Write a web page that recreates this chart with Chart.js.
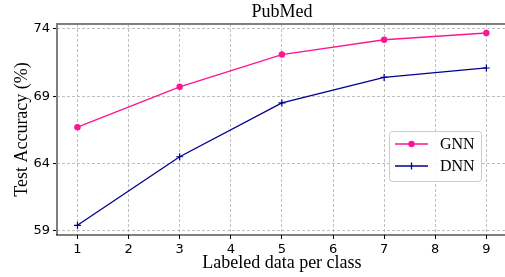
<!DOCTYPE html>
<html>
<head>
<meta charset="utf-8">
<script src="https://cdn.jsdelivr.net/npm/chart.js@4/dist/chart.umd.min.js"></script>
<style>
    html, body { margin: 0; padding: 0; background: #fff; overflow: hidden; }
</style>
</head>
<body>
<canvas id="acc-chart" width="512" height="277"></canvas>
<script>
    // data
    var labeledPerClass = [1, 3, 5, 7, 9];
    var gnnAcc = [66.7, 69.7, 72.1, 73.2, 73.7];
    var dnnAcc = [59.4, 64.5, 68.5, 70.4, 71.1];
    var xTicks = [1, 2, 3, 4, 5, 6, 7, 8, 9];
    var yTicks = [59, 64, 69, 74];

    var GNN_COLOR = "#ff1493";
    var DNN_COLOR = "#00008b";

    function toPoints(ys) {
        return labeledPerClass.map(function (x, i) { return {x: x, y: ys[i]}; });
    }

    // axes box: grey top/left, black bottom (right side runs off the page)
    var frame = {
        id: "frame",
        afterDatasetsDraw: function (chart) {
            var a = chart.chartArea, ctx = chart.ctx;
            ctx.save();
            ctx.strokeStyle = "#808080";
            ctx.lineWidth = 2;
            ctx.beginPath();
            ctx.moveTo(a.left, a.bottom);
            ctx.lineTo(a.left, a.top);
            ctx.lineTo(a.right, a.top);
            ctx.stroke();
            ctx.strokeStyle = "#000";
            ctx.lineWidth = 1.2;
            ctx.beginPath();
            ctx.moveTo(a.left - 1, a.bottom);
            ctx.lineTo(a.right, a.bottom);
            ctx.stroke();
            ctx.restore();
        }
    };

    // legend box, center right inside the axes
    var boxLegend = {
        id: "boxLegend",
        afterDraw: function (chart) {
            var ctx = chart.ctx;
            var x = 389, y = 131, w = 92, h = 50;
            ctx.save();
            ctx.fillStyle = "rgba(255,255,255,0.85)";
            ctx.strokeStyle = "#cccccc";
            ctx.lineWidth = 1;
            ctx.beginPath();
            ctx.roundRect(x + 0.5, y + 0.5, w, h, 3);
            ctx.fill();
            ctx.stroke();
            ctx.font = "16px 'Liberation Serif'";
            ctx.textBaseline = "middle";
            chart.data.datasets.forEach(function (ds, i) {
                var ry = 144 + i * 22;
                ctx.strokeStyle = ds.borderColor;
                ctx.lineWidth = 1.3;
                ctx.beginPath();
                ctx.moveTo(395, ry);
                ctx.lineTo(428, ry);
                ctx.stroke();
                if (ds.pointStyle === "circle") {
                    ctx.fillStyle = ds.borderColor;
                    ctx.beginPath();
                    ctx.arc(411.5, ry, 3.2, 0, Math.PI * 2);
                    ctx.fill();
                } else {
                    ctx.beginPath();
                    ctx.moveTo(411.5, ry - 3.5);
                    ctx.lineTo(411.5, ry + 3.5);
                    ctx.stroke();
                }
                ctx.fillStyle = "#000";
                ctx.fillText(ds.label, 440, ry + 1);
            });
            ctx.restore();
        }
    };

    var gridOpts = {
        color: "#b0b0b0",
        lineWidth: 0.8,
        tickColor: "#000",
        tickLength: 4,
        tickWidth: 1
    };

    var ctx1 = document.getElementById("acc-chart").getContext("2d");
    var accChart = new Chart(ctx1, {
        type: "line",
        data: {
            datasets: [{
                label: "GNN",
                data: toPoints(gnnAcc),
                borderColor: GNN_COLOR,
                backgroundColor: GNN_COLOR,
                borderWidth: 1.3,
                pointStyle: "circle",
                pointRadius: 3.2,
                pointBorderWidth: 0,
                fill: false,
                tension: 0
            },
            {
                label: "DNN",
                data: toPoints(dnnAcc),
                borderColor: DNN_COLOR,
                backgroundColor: DNN_COLOR,
                borderWidth: 1.3,
                pointStyle: "cross",
                pointRadius: 3.5,
                pointBorderWidth: 1.2,
                fill: false,
                tension: 0
            }]
        },
        options: {
            responsive: false,
            animation: false,
            devicePixelRatio: 1,
            layout: {padding: 0},
            plugins: {
                legend: {display: false},
                tooltip: {enabled: false},
                title: {
                    display: true,
                    text: "PubMed",
                    fullSize: false,
                    color: "#000",
                    font: {family: "Liberation Serif", size: 18, weight: "normal"},
                    padding: {top: 1, bottom: 1.4}
                }
            },
            scales: {
                x: {
                    type: "linear",
                    min: 0.6,
                    max: 9.4,
                    afterBuildTicks: function (scale) {
                        scale.ticks = xTicks.map(function (v) { return {value: v}; });
                    },
                    afterFit: function (scale) { scale.height = 42; },
                    ticks: {
                        color: "#000",
                        padding: 3,
                        font: {family: "DejaVu Sans", size: 13}
                    },
                    grid: gridOpts,
                    border: {display: false, dash: [3, 2]},
                    title: {
                        display: true,
                        text: "Labeled data per class",
                        color: "#000",
                        font: {family: "Liberation Serif", size: 18, weight: "normal"},
                        padding: {top: 0, bottom: 2.5}
                    }
                },
                y: {
                    min: 58.68,
                    max: 74.37,
                    afterBuildTicks: function (scale) {
                        scale.ticks = yTicks.map(function (v) { return {value: v}; });
                    },
                    afterFit: function (scale) { scale.width = 57; },
                    ticks: {
                        color: "#000",
                        padding: 3,
                        font: {family: "DejaVu Sans", size: 13}
                    },
                    grid: gridOpts,
                    border: {display: false, dash: [3, 2]},
                    title: {
                        display: true,
                        text: "Test Accuracy (%)",
                        color: "#000",
                        font: {family: "Liberation Serif", size: 18, weight: "normal"},
                        padding: {top: 11.2, bottom: 0}
                    }
                }
            }
        },
        plugins: [frame, boxLegend]
    });
</script>
</body>
</html>
